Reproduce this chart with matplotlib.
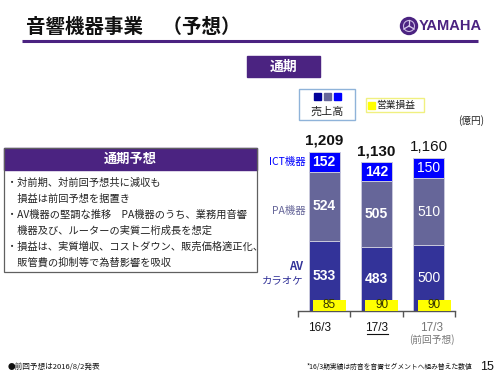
import matplotlib
matplotlib.use("Agg")
import matplotlib.pyplot as plt
from matplotlib.patches import Rectangle, Circle
import numpy as np

plt.rcParams['font.family'] = ['Noto Sans CJK JP', 'DejaVu Sans']

# ---- data ----
categories = ["16/3", "17/3", "17/3"]
cat_sub = ["", "", "(前回予想)"]
segments = ["AV\nカラオケ", "PA機器", "ICT機器"]
av_karaoke = [533, 483, 500]
pa_equip = [524, 505, 510]
ict_equip = [152, 142, 150]
totals = ["1,209", "1,130", "1,160"]
op_income = [85, 90, 90]
bullets = [
    "・対前期、対前回予想共に減収も",
    "　損益は前回予想を据置き",
    "・AV機器の堅調な推移　PA機器のうち、業務用音響",
    "　機器及び、ルーターの実質二桁成長を想定",
    "・損益は、実質増収、コストダウン、販売価格適正化、",
    "　販管費の抑制等で為替影響を吸収",
]

PURPLE = '#4b2381'
C_AV = '#333399'
C_PA = '#666699'
C_ICT = '#0000ff'
YEL = '#ffff00'
NUM = ['Liberation Sans', 'DejaVu Sans']

W, H = 500, 375
fig = plt.figure(figsize=(5, 3.75), dpi=100)
fig.patch.set_facecolor('white')

# overlay axes in pixel coordinates
ax0 = fig.add_axes([0, 0, 1, 1])
ax0.set_xlim(0, W)
ax0.set_ylim(H, 0)
ax0.axis('off')

# title
ax0.text(26, 27, "音響機器事業　（予想）", fontsize=14, fontweight='bold', va='center', ha='left', color='#111111')
ax0.plot([22, 478], [41, 41], color=PURPLE, lw=2.2, solid_capstyle='butt')
# yamaha logo
ax0.add_patch(Circle((409, 26), 8.5, color=PURPLE))
ax0.add_patch(Circle((409, 26), 5.5, fill=False, ec='#c8b8e0', lw=0.8))
for ang in (90, 210, 330):
    a = np.deg2rad(ang)
    ax0.plot([409, 409 + 6 * np.cos(a)], [26, 26 - 6 * np.sin(a)], color='#d8ccec', lw=0.9)
ax0.text(419, 26.5, "YAMAHA", fontsize=10.5, fontweight='bold', color=PURPLE, va='center', ha='left',
         family=['Liberation Sans'])

# 通期 box
ax0.add_patch(Rectangle((247, 56), 73, 21, color=PURPLE))
ax0.text(283.5, 66.5, "通期", color='white', fontsize=10, fontweight='bold', ha='center', va='center')

# left forecast box
ax0.add_patch(Rectangle((4, 148), 253, 22, color=PURPLE))
ax0.text(130.5, 159, "通期予想", color='white', fontsize=9.5, fontweight='bold', ha='center', va='center')
ax0.add_patch(Rectangle((4, 148), 253, 124, fill=False, ec='#606060', lw=0.9))
for i, line in enumerate(bullets):
    ax0.text(7, 183 + i * 16, line, fontsize=7.35, color='#222222', va='center', ha='left')

# legends
ax0.add_patch(Rectangle((299, 89), 56, 31, fill=False, ec='#8fb3d9', lw=1.0))
for xx, c in zip((314, 324, 334), ('#000099', C_PA, C_ICT)):
    ax0.add_patch(Rectangle((xx, 93), 7, 6.5, color=c))
ax0.text(327.5, 112, "売上高", fontsize=8, ha='center', va='center', color='#222222')
ax0.add_patch(Rectangle((366, 98), 58, 14, fill=False, ec='#f0f080', lw=1.0))
ax0.add_patch(Rectangle((368, 101.5), 7, 7, color=YEL))
ax0.text(376, 105, "営業損益", fontsize=7, ha='left', va='center', color='#222222')
ax0.text(471, 121, "(億円)", fontsize=7, ha='center', va='center', color='#222222')

# ---- bar chart ----
bx0, bx1 = 298, 455
by0, by1 = 311, 140
ax = fig.add_axes([bx0 / W, 1 - by0 / H, (bx1 - bx0) / W, (by0 - by1) / H])
ax.patch.set_alpha(0)
x = np.arange(len(categories))
bw = 0.59
ax.bar(x, av_karaoke, bw, color=C_AV, edgecolor='#c8c8dc', lw=0.7, zorder=2)
ax.bar(x, pa_equip, bw, bottom=av_karaoke, color=C_PA, edgecolor='#c8c8dc', lw=0.7, zorder=2)
bot2 = np.array(av_karaoke) + np.array(pa_equip)
ax.bar(x, ict_equip, bw, bottom=bot2, color=C_ICT, edgecolor='#c8c8dc', lw=0.7, zorder=2)
ax.set_xlim(-0.5, 2.5)
ax.set_ylim(0, 1300)
for s in ('top', 'right', 'left'):
    ax.spines[s].set_visible(False)
ax.spines['bottom'].set_color('#555555')
ax.spines['bottom'].set_linewidth(1.0)
ax.set_yticks([])
ax.set_xticks([-0.5, 0.5, 1.5, 2.5])
ax.set_xticklabels([])
ax.tick_params(axis='x', direction='out', length=4, color='#555555', width=1.0)

weights = ['bold', 'bold', 'normal']
for i in range(3):
    ax.text(x[i], av_karaoke[i] / 2, str(av_karaoke[i]), color='white', fontsize=10, fontweight=weights[i],
            ha='center', va='center', family=NUM, zorder=4)
    ax.text(x[i], av_karaoke[i] + pa_equip[i] / 2, str(pa_equip[i]), color='white', fontsize=10,
            fontweight=weights[i], ha='center', va='center', family=NUM, zorder=4)
    ax.text(x[i], bot2[i] + ict_equip[i] / 2, str(ict_equip[i]), color='white', fontsize=10,
            fontweight=weights[i], ha='center', va='center', family=NUM, zorder=4)
    top = bot2[i] + ict_equip[i]
    ax.text(x[i], top + 85, totals[i], color='#111111', fontsize=11, fontweight=weights[i],
            ha='center', va='center', family=NUM)

# operating income (secondary scale)
ax2 = ax.twinx()
ax2.patch.set_alpha(0)
ax2.set_ylim(0, 1340)
ax2.bar(x + 0.1, op_income, 0.63, color=YEL, zorder=3)
for i in range(3):
    ax2.text(x[i] + 0.1, op_income[i] / 2 + 4, str(op_income[i]), fontsize=8.5, color='#333300',
             ha='center', va='center', family=NUM, zorder=5)
ax2.axis('off')

# segment labels
ax0.text(306, 162, "ICT機器", color=C_ICT, fontsize=7.5, ha='right', va='center')
ax0.text(306, 211, "PA機器", color=C_PA, fontsize=7.5, ha='right', va='center')
ax0.text(303, 267, "AV", color=C_AV, fontsize=8, ha='right', va='center', fontweight='bold')
ax0.text(303, 280, "カラオケ", color=C_AV, fontsize=7.5, ha='right', va='center')

# category labels
cat_x = [320, 377, 432]
cat_col = ['#111111', '#111111', '#777777']
for cx, lab, sub, col in zip(cat_x, categories, cat_sub, cat_col):
    ax0.text(cx, 328, lab, fontsize=8.5, color=col, ha='center', va='center', family=NUM)
    if sub:
        ax0.text(cx, 340, sub, fontsize=7, color=col, ha='center', va='center')
ax0.plot([367, 388], [334, 334], color='#111111', lw=0.8)

# footer
ax0.text(8, 367, "●前回予想は2016/8/2発表", fontsize=5.5, color='#111111', ha='left', va='center')
ax0.text(307, 367, "*16/3期実績は防音を音響セグメントへ組み替えた数値", fontsize=4.9, color='#111111',
         ha='left', va='center')
ax0.text(487, 367, "15", fontsize=9, color='#111111', ha='center', va='center', family=NUM)

fig.savefig("out.png", dpi=100)
